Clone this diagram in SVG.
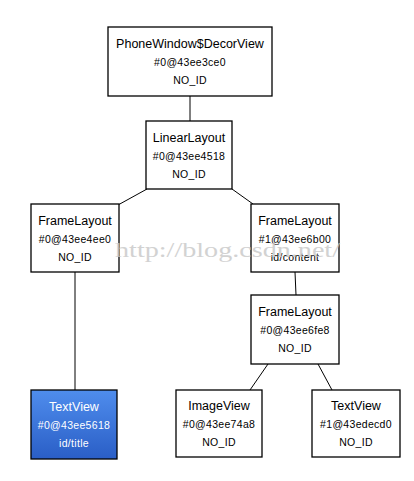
<svg xmlns="http://www.w3.org/2000/svg" width="414" height="481" viewBox="0 0 414 481">
<defs>
<linearGradient id="blue" x1="0" y1="0" x2="0" y2="1">
<stop offset="0" stop-color="#4f8ded"/>
<stop offset="1" stop-color="#2a5ec6"/>
</linearGradient>
<style>
.box{fill:#fff;stroke:#000;stroke-width:1.3}
.sel{fill:url(#blue);stroke:#000;stroke-width:1.3}
.t{font-family:"Liberation Sans",Arial,sans-serif;font-size:12.5px;text-anchor:middle;fill:#000}
.s{font-family:"Liberation Sans",Arial,sans-serif;font-size:10.5px;text-anchor:middle;fill:#000;letter-spacing:0.3px}
.w{fill:#fff}
.c{stroke:#000;stroke-width:1;fill:none}
.wm{font-family:"Liberation Serif","DejaVu Serif",serif;font-size:21px;fill:#c8c8c8;opacity:0.8}
</style>
</defs>
<rect width="414" height="481" fill="#fff"/>
<g id="connectors">
<line class="c" x1="190" y1="96" x2="190" y2="121"/>
<line class="c" x1="147" y1="189" x2="118" y2="205"/>
<line class="c" x1="232" y1="189" x2="253" y2="204"/>
<line class="c" x1="75" y1="272" x2="75" y2="390"/>
<line class="c" x1="295" y1="272" x2="296" y2="295"/>
<line class="c" x1="268" y1="364" x2="250" y2="390"/>
<line class="c" x1="318" y1="364" x2="332" y2="390"/>
</g>
<g id="decorview">
<rect class="box" x="108" y="27" width="164" height="69"/>
<text class="t" x="190" y="48">PhoneWindow$DecorView</text>
<text class="s" x="190" y="66">#0@43ee3ce0</text>
<text class="s" x="190" y="84">NO_ID</text>
</g>
<g id="linearlayout">
<rect class="box" x="146" y="121" width="86" height="68"/>
<text class="t" x="189" y="142">LinearLayout</text>
<text class="s" x="189" y="160">#0@43ee4518</text>
<text class="s" x="189" y="178">NO_ID</text>
</g>
<g id="framelayout1">
<rect class="box" x="31" y="204" width="88" height="68"/>
<text class="t" x="75" y="225">FrameLayout</text>
<text class="s" x="75" y="243">#0@43ee4ee0</text>
<text class="s" x="75" y="261">NO_ID</text>
</g>
<g id="framelayout2">
<rect class="box" x="251" y="204" width="88" height="68"/>
<text class="t" x="295" y="225">FrameLayout</text>
<text class="s" x="295" y="243">#1@43ee6b00</text>
<text class="s" x="295" y="261">id/content</text>
</g>
<g id="framelayout3">
<rect class="box" x="251" y="295" width="88" height="69"/>
<text class="t" x="295" y="316">FrameLayout</text>
<text class="s" x="295" y="334">#0@43ee6fe8</text>
<text class="s" x="295" y="352">NO_ID</text>
</g>
<g id="textview1">
<rect class="sel" x="31" y="390" width="86" height="69"/>
<text class="t w" x="74" y="411">TextView</text>
<text class="s w" x="74" y="429">#0@43ee5618</text>
<text class="s w" x="74" y="447">id/title</text>
</g>
<g id="imageview">
<rect class="box" x="176" y="390" width="86" height="67"/>
<text class="t" x="219" y="410">ImageView</text>
<text class="s" x="219" y="428">#0@43ee74a8</text>
<text class="s" x="219" y="446">NO_ID</text>
</g>
<g id="textview2">
<rect class="box" x="312" y="390" width="88" height="67"/>
<text class="t" x="356" y="410">TextView</text>
<text class="s" x="356" y="428">#1@43edecd0</text>
<text class="s" x="356" y="446">NO_ID</text>
</g>
<text class="wm" x="115" y="257" textLength="225" lengthAdjust="spacingAndGlyphs">http://blog.csdn.net/</text>
</svg>
